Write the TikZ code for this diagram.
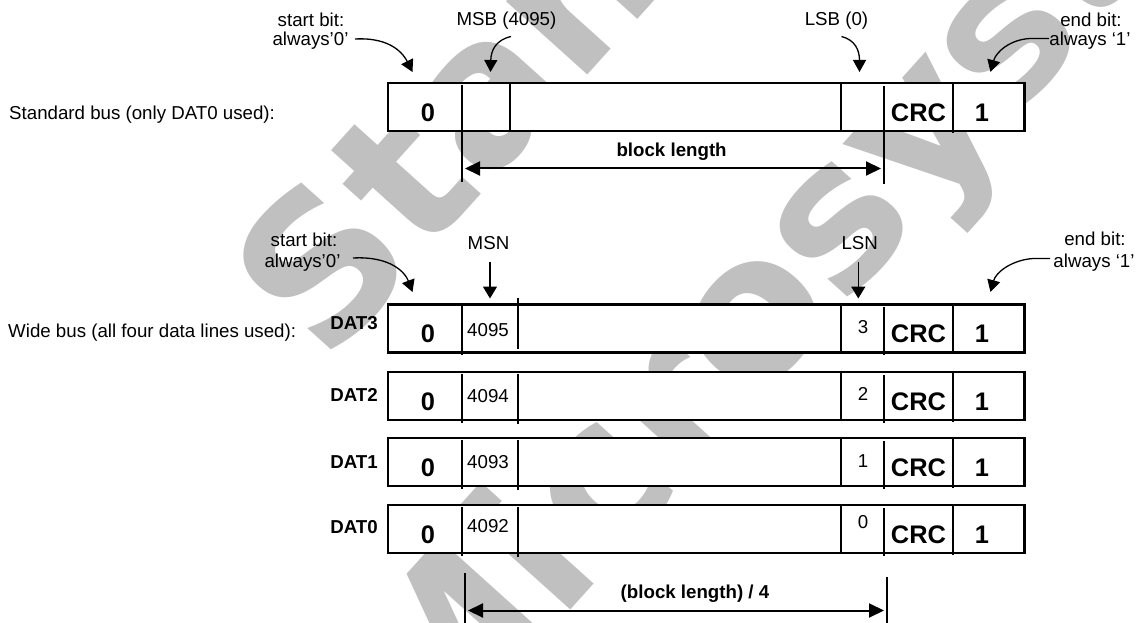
\documentclass[tikz,border=0pt]{standalone}
\usepackage{fontspec}
\setmainfont{Liberation Sans}
\newfontfamily\wmfont{DejaVu Sans}
\usetikzlibrary{arrows.meta}
\definecolor{wm}{RGB}{192,192,192}
\tikzset{
  txt/.style={inner sep=0pt, font=\fontsize{18.7}{22}\selectfont, anchor=base},
  txtb/.style={inner sep=0pt, font=\fontsize{18.7}{22}\selectfont\bfseries, anchor=base},
  big/.style={inner sep=0pt, font=\fontsize{25.4}{30}\selectfont\bfseries, anchor=base},
  rowbox/.style={draw, fill=white, line width=2.2pt, minimum width=636.6pt, minimum height=48pt, inner sep=0pt, anchor=north west},
  divl/.style={line width=2pt},
  dim/.style={line width=2pt, {Triangle[length=15pt,width=14pt]}-{Triangle[length=15pt,width=14pt]}},
  curv/.style={line width=1.3pt, -{Triangle[length=12pt,width=13pt]}},
  straw/.style={line width=1.5pt, -{Triangle[length=12pt,width=14pt]}},
  wmark/.style={inner sep=0pt, anchor=base west, rotate=48, text=wm, font=\wmfont\fontsize{200}{230}\selectfont\bfseries},
}
\begin{document}
\begin{tikzpicture}[x=1pt, y=-1pt]
\useasboundingbox (0,0) rectangle (1138,623);
\fill[white] (0,0) rectangle (1138,623);
% watermark
\begin{scope}
\clip (0,0) rectangle (1138,623);
\node[wmark] (wm1) at (326,366.3) {Standard};
\node[wmark] (wm2) at (426.3,770.9) {Microsystems};
\end{scope}

% ---------- standard bus ----------
\node[txt, anchor=base west] (stdlbl) at (9,119.5) {Standard bus (only DAT0 used):};
\node[rowbox] (row) at (386.7,82) {};
\draw[divl] (461.7,85) -- (461.7,182);
\draw[divl] (510,82) -- (510,131);
\draw[divl] (841,82) -- (841,130);
\draw[divl] (884.3,86) -- (884.3,183.5);
\draw[divl] (953.3,84) -- (953.3,133);
\node[big] (zero) at (428,121.3) {0};
\node[big] (crc) at (918.5,121.3) {CRC};
\node[big] (one) at (982,121.3) {1};

\node[txt] (sb1a) at (311,26.5) {start bit:};
\node[txt] (sb1b) at (310.5,45.8) {always’0’};
\node[txt] (msb) at (506.5,25.5) {MSB (4095)};
\node[txt] (lsb) at (836.5,25.5) {LSB (0)};
\node[txt] (eb1a) at (1091,26.5) {end bit:};
\node[txt] (eb1b) at (1090,45.8) {always ‘1’};

\coordinate (c1s) at (355,39);     \coordinate (c1e) at (412.5,72);
\coordinate (c2s) at (511,36.5);   \coordinate (c2e) at (490.5,72);
\coordinate (c3s) at (841.5,36.5); \coordinate (c3e) at (859.5,72);
\coordinate (c4s) at (1049,38.5);  \coordinate (c4e) at (990.5,72);
\draw[curv] (c1s) .. controls (392,37) and (404,55) .. (c1e);
\draw[curv] (c2s) .. controls (496,40) and (491,50) .. (c2e);
\draw[curv] (c3s) .. controls (855,40) and (859.5,50) .. (c3e);
\draw[curv] (c4s) -- (1030,38.5) .. controls (1010,39.5) and (996,52) .. (c4e);

\node[txtb] (bl) at (671.6,157) {block length};
\coordinate (bla) at (465,168.5); \coordinate (blb) at (881,168.5);
\draw[dim] (bla) -- (blb);

% ---------- wide bus ----------
\node[txt, anchor=base west] (widelbl) at (8,337) {Wide bus (all four data lines used):};
\node[txt] (sb2a) at (304,246) {start bit:};
\node[txt] (sb2b) at (302.5,267.5) {always’0’};
\node[txt] (msn) at (488.5,249.5) {MSN};
\node[txt] (lsn) at (859.7,249.5) {LSN};
\node[txt] (eb2a) at (1095,245.5) {end bit:};
\node[txt] (eb2b) at (1094,267) {always ‘1’};

\coordinate (c5s) at (353,258);    \coordinate (c5e) at (412.5,292);
\coordinate (c6s) at (490,262);    \coordinate (c6e) at (490,298.5);
\coordinate (c7s) at (858.3,262);  \coordinate (c7e) at (858.3,298.5);
\coordinate (c8s) at (1050,258.5); \coordinate (c8e) at (990.5,292);
\draw[curv] (c5s) .. controls (390,256) and (405,272) .. (c5e);
\draw[straw] (c6s) -- (c6e);
\draw[straw] (c7s) -- (c7e);
\draw[curv] (c8s) -- (1033,258.5) .. controls (1012,260) and (996,272) .. (c8e);

\foreach \T/\n/\L/\lb/\rb/\db/\ma/\mb in {
  303.3/3/4095/33.2/29.7/26.2/-5/46,
  370.7/2/4094/31.7/29.7/30.3/3/53,
  437/1/4093/31.7/30.9/31/3/53,
  503.8/0/4092/28.7/25.1/29.6/3/53} {
  \node[rowbox] (row\n) at (386.7,\T) {};
  \draw[divl] (461.7,\T+3) -- (461.7,\T+52);
  \draw[divl] (518.3,\T+\ma) -- (518.3,\T+\mb);
  \draw[divl] (841,\T) -- (841,\T+48);
  \draw[divl] (884.3,\T+4) -- (884.3,\T+52);
  \draw[divl] (953.3,\T+2) -- (953.3,\T+51);
  \node[txtb] (dat\n) at (354,\T+\db) {DAT\n};
  \node[big] (zero\n) at (428,\T+39.3) {0};
  \node[txt, anchor=base west] (msnum\n) at (467,\T+\lb) {\L};
  \node[txt] (lsnum\n) at (863,\T+\rb) {\n};
  \node[big] (crc\n) at (918.5,\T+39.3) {CRC};
  \node[big] (one\n) at (982,\T+39.3) {1};
}

\draw[divl] (465,573.3) -- (465,623);
\draw[divl] (886.7,576.7) -- (886.7,623);
\node[txtb] (bl4) at (695,598) {(block length) / 4};
\coordinate (b4a) at (468,610.5); \coordinate (b4b) at (884,610.5);
\draw[dim] (b4a) -- (b4b);
\end{tikzpicture}
\end{document}
